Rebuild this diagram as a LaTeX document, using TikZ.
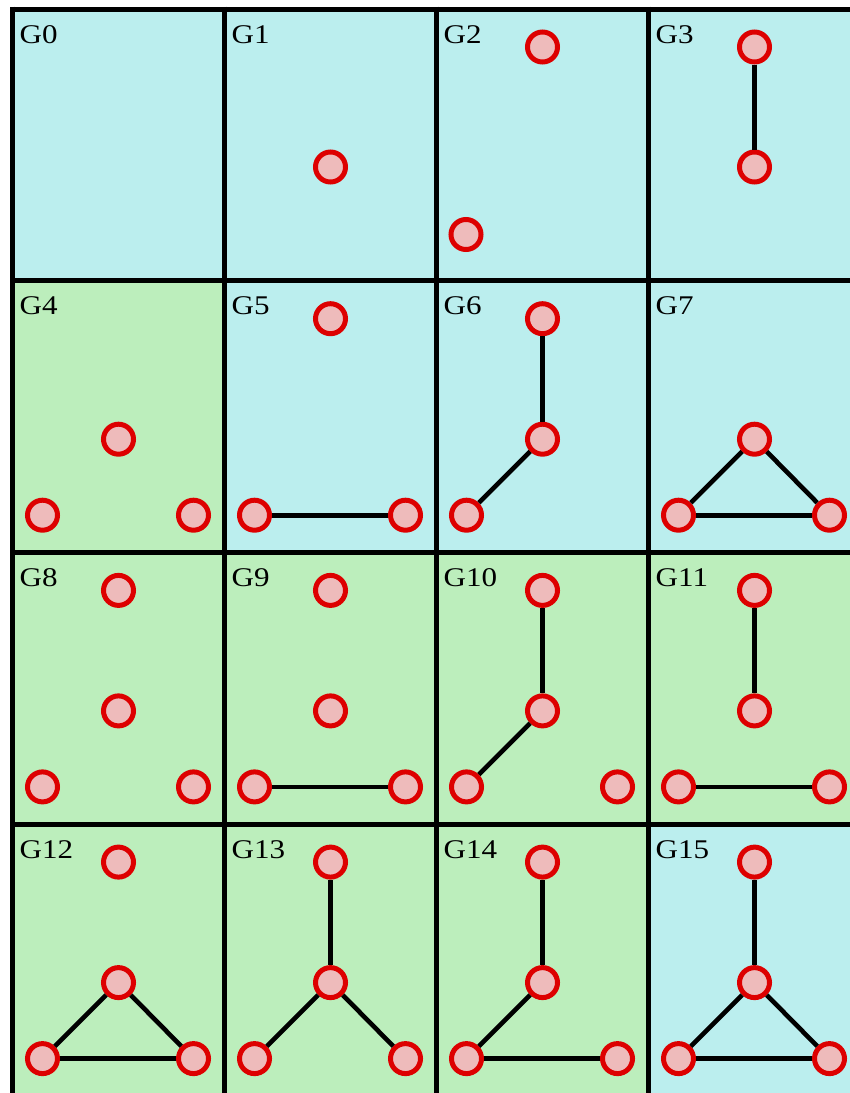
\documentclass[tikz,border=0pt]{standalone}
\usepackage{fontspec}
\setmainfont{Liberation Serif}
\definecolor{cy}{HTML}{BBEEEE}
\definecolor{gr}{HTML}{BCEEBC}
\definecolor{vred}{HTML}{DD0000}
\definecolor{vpink}{HTML}{EEBBBB}
\begin{document}
\begin{tikzpicture}[x=1pt,y=-1pt,
  vtx/.style={circle,draw=vred,fill=vpink,line width=5pt,minimum size=30pt,inner sep=0pt},
  edge/.style={draw=black,line width=4.6pt},
  grid/.style={draw=black,line width=5pt},
  lab/.style={anchor=base west,inner sep=0pt,xscale=1.15,font=\fontsize{27}{27}\selectfont}]
\useasboundingbox (0,0) rectangle (850,1093);
\clip (0,0) rectangle (850,1093);
\fill[white] (0,0) rectangle (850,1093);
% backgrounds
\foreach \c/\r/\col in {0/0/cy,1/0/cy,2/0/cy,3/0/cy,
                        0/1/gr,1/1/cy,2/1/cy,3/1/cy,
                        0/2/gr,1/2/gr,2/2/gr,3/2/gr,
                        0/3/gr,1/3/gr,2/3/gr,3/3/cy}
  \fill[\col] ({12.5+212*\c},{9+271.7*\r}) rectangle +(213,272.5);
% grid lines
\foreach \c in {0,1,2,3}
  \draw[grid] ({12.5+212*\c},6.5) -- ({12.5+212*\c},1100);
\foreach \r in {0,1,2,3}
  \draw[grid] (10,{9+271.7*\r}) -- (860,{9+271.7*\r});
% cells
% G0
\begin{scope}[shift={(12.5,9)}]
\node[lab] (l0) at (7,34) {G0};
\end{scope}
% G1
\begin{scope}[shift={(224.5,9)}]
\node[lab] (l1) at (7,34) {G1};
\node[vtx] (g1m) at (106,158) {};
\end{scope}
% G2
\begin{scope}[shift={(436.5,9)}]
\node[lab] (l2) at (7,34) {G2};
\node[vtx] (g2t) at (106,38) {};
\node[vtx] (g2l) at (29.5,225.5) {};
\end{scope}
% G3
\begin{scope}[shift={(648.5,9)}]
\node[lab] (l3) at (7,34) {G3};
\node[vtx] (g3t) at (106,38) {};
\node[vtx] (g3m) at (106,158) {};
\draw[edge] (g3t) -- (g3m);
\end{scope}
% G4
\begin{scope}[shift={(12.5,280.7)}]
\node[lab] (l4) at (7,34) {G4};
\node[vtx] (g4m) at (106,158.5) {};
\node[vtx] (g4l) at (30,234.5) {};
\node[vtx] (g4r) at (181,234.5) {};
\end{scope}
% G5
\begin{scope}[shift={(224.5,280.7)}]
\node[lab] (l5) at (7,34) {G5};
\node[vtx] (g5t) at (106,38) {};
\node[vtx] (g5l) at (30,234.5) {};
\node[vtx] (g5r) at (181,234.5) {};
\draw[edge] (g5l) -- (g5r);
\end{scope}
% G6
\begin{scope}[shift={(436.5,280.7)}]
\node[lab] (l6) at (7,34) {G6};
\node[vtx] (g6t) at (106,38) {};
\node[vtx] (g6m) at (106,158.5) {};
\node[vtx] (g6l) at (30,234.5) {};
\draw[edge] (g6t) -- (g6m);
\draw[edge] (g6m) -- (g6l);
\end{scope}
% G7
\begin{scope}[shift={(648.5,280.7)}]
\node[lab] (l7) at (7,34) {G7};
\node[vtx] (g7m) at (106,158.5) {};
\node[vtx] (g7l) at (30,234.5) {};
\node[vtx] (g7r) at (181,234.5) {};
\draw[edge] (g7m) -- (g7l);
\draw[edge] (g7m) -- (g7r);
\draw[edge] (g7l) -- (g7r);
\end{scope}
% G8
\begin{scope}[shift={(12.5,552.4)}]
\node[lab] (l8) at (7,34) {G8};
\node[vtx] (g8t) at (106,38) {};
\node[vtx] (g8m) at (106,158.5) {};
\node[vtx] (g8l) at (30,234.5) {};
\node[vtx] (g8r) at (181,234.5) {};
\end{scope}
% G9
\begin{scope}[shift={(224.5,552.4)}]
\node[lab] (l9) at (7,34) {G9};
\node[vtx] (g9t) at (106,38) {};
\node[vtx] (g9m) at (106,158.5) {};
\node[vtx] (g9l) at (30,234.5) {};
\node[vtx] (g9r) at (181,234.5) {};
\draw[edge] (g9l) -- (g9r);
\end{scope}
% G10
\begin{scope}[shift={(436.5,552.4)}]
\node[lab] (l10) at (7,34) {G10};
\node[vtx] (g10t) at (106,38) {};
\node[vtx] (g10m) at (106,158.5) {};
\node[vtx] (g10l) at (30,234.5) {};
\node[vtx] (g10r) at (181,234.5) {};
\draw[edge] (g10t) -- (g10m);
\draw[edge] (g10m) -- (g10l);
\end{scope}
% G11
\begin{scope}[shift={(648.5,552.4)}]
\node[lab] (l11) at (7,34) {G11};
\node[vtx] (g11t) at (106,38) {};
\node[vtx] (g11m) at (106,158.5) {};
\node[vtx] (g11l) at (30,234.5) {};
\node[vtx] (g11r) at (181,234.5) {};
\draw[edge] (g11t) -- (g11m);
\draw[edge] (g11l) -- (g11r);
\end{scope}
% G12
\begin{scope}[shift={(12.5,824.1)}]
\node[lab] (l12) at (7,34) {G12};
\node[vtx] (g12t) at (106,38) {};
\node[vtx] (g12m) at (106,158.5) {};
\node[vtx] (g12l) at (30,234.5) {};
\node[vtx] (g12r) at (181,234.5) {};
\draw[edge] (g12m) -- (g12l);
\draw[edge] (g12m) -- (g12r);
\draw[edge] (g12l) -- (g12r);
\end{scope}
% G13
\begin{scope}[shift={(224.5,824.1)}]
\node[lab] (l13) at (7,34) {G13};
\node[vtx] (g13t) at (106,38) {};
\node[vtx] (g13m) at (106,158.5) {};
\node[vtx] (g13l) at (30,234.5) {};
\node[vtx] (g13r) at (181,234.5) {};
\draw[edge] (g13t) -- (g13m);
\draw[edge] (g13m) -- (g13l);
\draw[edge] (g13m) -- (g13r);
\end{scope}
% G14
\begin{scope}[shift={(436.5,824.1)}]
\node[lab] (l14) at (7,34) {G14};
\node[vtx] (g14t) at (106,38) {};
\node[vtx] (g14m) at (106,158.5) {};
\node[vtx] (g14l) at (30,234.5) {};
\node[vtx] (g14r) at (181,234.5) {};
\draw[edge] (g14t) -- (g14m);
\draw[edge] (g14m) -- (g14l);
\draw[edge] (g14l) -- (g14r);
\end{scope}
% G15
\begin{scope}[shift={(648.5,824.1)}]
\node[lab] (l15) at (7,34) {G15};
\node[vtx] (g15t) at (106,38) {};
\node[vtx] (g15m) at (106,158.5) {};
\node[vtx] (g15l) at (30,234.5) {};
\node[vtx] (g15r) at (181,234.5) {};
\draw[edge] (g15t) -- (g15m);
\draw[edge] (g15m) -- (g15l);
\draw[edge] (g15m) -- (g15r);
\draw[edge] (g15l) -- (g15r);
\end{scope}
\end{tikzpicture}
\end{document}
